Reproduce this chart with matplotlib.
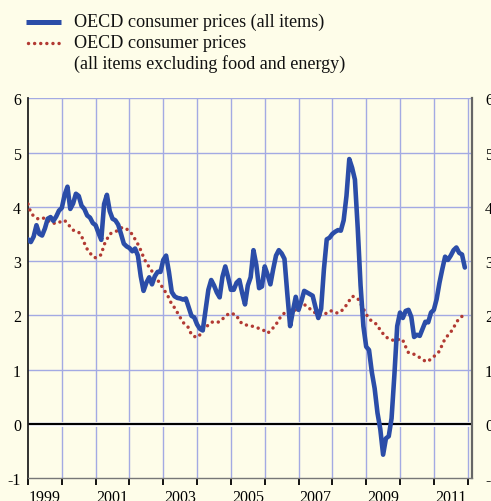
import matplotlib
matplotlib.use("Agg")
import matplotlib.pyplot as plt
import numpy as np
from matplotlib.lines import Line2D
import matplotlib.transforms as mtransforms

# ---------------- data (monthly, Jan 1999 - Dec 2011) ----------------
start_year = 1999
all_items = [
    3.40, 3.35, 3.45, 3.66, 3.50, 3.47, 3.60, 3.78, 3.81, 3.74, 3.82, 3.93,   # 1999
    3.98, 4.22, 4.37, 3.96, 4.06, 4.24, 4.20, 4.02, 3.96, 3.84, 3.80, 3.70,   # 2000
    3.66, 3.52, 3.39, 4.05, 4.22, 3.92, 3.78, 3.75, 3.67, 3.50, 3.32, 3.27,   # 2001
    3.24, 3.18, 3.23, 3.10, 2.72, 2.45, 2.60, 2.70, 2.57, 2.72, 2.80, 2.80,   # 2002
    3.02, 3.10, 2.80, 2.43, 2.35, 2.32, 2.31, 2.29, 2.31, 2.15, 1.99, 1.96,   # 2003
    1.83, 1.75, 1.72, 2.10, 2.47, 2.65, 2.55, 2.42, 2.33, 2.71, 2.90, 2.70,   # 2004
    2.47, 2.47, 2.60, 2.65, 2.41, 2.20, 2.55, 2.70, 3.20, 2.93, 2.50, 2.53,   # 2005
    2.90, 2.75, 2.57, 2.85, 3.10, 3.20, 3.14, 3.04, 2.40, 1.80, 2.08, 2.34,   # 2006
    2.10, 2.26, 2.45, 2.42, 2.39, 2.36, 2.15, 1.95, 2.12, 2.85, 3.40, 3.43,   # 2007
    3.50, 3.54, 3.57, 3.56, 3.75, 4.20, 4.88, 4.72, 4.50, 3.60, 2.55, 1.80,   # 2008
    1.42, 1.36, 0.95, 0.65, 0.20, -0.10, -0.57, -0.27, -0.23, 0.10, 0.90, 1.80,  # 2009
    2.05, 1.95, 2.08, 2.10, 1.97, 1.60, 1.64, 1.62, 1.75, 1.88, 1.87, 2.05,   # 2010
    2.10, 2.30, 2.60, 2.85, 3.08, 3.02, 3.10, 3.20, 3.25, 3.15, 3.12, 2.88,   # 2011
]
core = [
    4.05, 3.89, 3.83, 3.79, 3.77, 3.79, 3.79, 3.75, 3.71, 3.70, 3.69, 3.71,   # 1999
    3.74, 3.75, 3.69, 3.63, 3.57, 3.55, 3.53, 3.46, 3.33, 3.22, 3.15, 3.08,   # 2000
    3.06, 3.08, 3.12, 3.30, 3.40, 3.50, 3.52, 3.54, 3.57, 3.61, 3.62, 3.59,   # 2001
    3.55, 3.49, 3.40, 3.31, 3.20, 3.07, 2.96, 2.89, 2.81, 2.74, 2.65, 2.57,   # 2002
    2.49, 2.41, 2.32, 2.20, 2.14, 2.05, 1.96, 1.87, 1.82, 1.77, 1.64, 1.61,   # 2003
    1.59, 1.64, 1.72, 1.78, 1.82, 1.87, 1.88, 1.87, 1.88, 1.93, 1.98, 2.02,   # 2004
    2.04, 2.02, 2.00, 1.89, 1.85, 1.82, 1.82, 1.81, 1.79, 1.77, 1.76, 1.74,   # 2005
    1.71, 1.67, 1.71, 1.77, 1.83, 1.92, 2.00, 2.04, 2.07, 2.07, 2.08, 2.10,   # 2006
    2.13, 2.20, 2.20, 2.16, 2.12, 2.08, 2.04, 2.01, 2.00, 2.02, 2.04, 2.08,   # 2007
    2.08, 2.05, 2.04, 2.07, 2.12, 2.19, 2.27, 2.35, 2.34, 2.31, 2.22, 2.12,   # 2008
    2.02, 1.94, 1.89, 1.86, 1.82, 1.72, 1.66, 1.60, 1.57, 1.55, 1.53, 1.54,   # 2009
    1.57, 1.54, 1.42, 1.31, 1.30, 1.28, 1.25, 1.22, 1.19, 1.15, 1.15, 1.20,   # 2010
    1.24, 1.28, 1.34, 1.46, 1.57, 1.63, 1.69, 1.77, 1.87, 1.94, 1.98, 2.02,   # 2011
]
label_all = "OECD consumer prices (all items)"
label_core_1 = "OECD consumer prices"
label_core_2 = "(all items excluding food and energy)"
year_labels = [1999, 2001, 2003, 2005, 2007, 2009, 2011]
y_ticks = [-1, 0, 1, 2, 3, 4, 5, 6]

# ---------------- style ----------------
BG = "#FEFDE9"
BLUE = "#2B4DA8"
RED = "#B23A33"
GRID = "#A3AAE3"
FONT = "Liberation Serif"
plt.rcParams["font.family"] = [FONT, "DejaVu Serif"]
DOTS = (0, (0.01, 1.75))

W, H = 491, 502
fig = plt.figure(figsize=(W / 100, H / 100), dpi=100, facecolor=BG)
left_px, right_px, top_px, bot_px = 28, 472, 99.3, 479
ax = fig.add_axes([left_px / W, 1 - bot_px / H, (right_px - left_px) / W, (bot_px - top_px) / H])
ax.set_facecolor(BG)

t_all = start_year + np.arange(len(all_items)) / 12.0
t_core = start_year + np.arange(len(core)) / 12.0

px_per_year = 33.82
x_max = start_year + (right_px - left_px) / px_per_year
ax.set_xlim(start_year, x_max)
ax.set_ylim(-1, 6)

# grid
for yr in range(2000, 2013):
    ax.axvline(yr, color=GRID, lw=1.0, zorder=1)
for yv in y_ticks:
    if yv not in (0, -1):
        ax.axhline(yv, color=GRID, lw=1.0, zorder=1)
# zero line
ax.axhline(0, color="white", lw=3.5, zorder=2)
ax.axhline(0, color="black", lw=1.6, zorder=2.1)

# series
ax.plot(t_core, core, color=RED, lw=2.5, linestyle=DOTS,
        dash_capstyle="round", zorder=3)
ax.plot(t_all, all_items, color=BLUE, lw=3.3, solid_joinstyle="round",
        solid_capstyle="round", zorder=4)

# spines
ax.spines["top"].set_visible(False)
ax.spines["left"].set_color("#222222")
ax.spines["left"].set_linewidth(1.3)
ax.spines["right"].set_color("#666666")
ax.spines["right"].set_linewidth(1.6)
ax.spines["bottom"].set_color("#777777")
ax.spines["bottom"].set_linewidth(1.0)

# y ticks both sides
ax.set_yticks(y_ticks)
ax.set_yticklabels([str(v) for v in y_ticks])
ax.tick_params(axis="y", which="both", length=0, labelsize=11.5, pad=5,
               left=True, right=True, labelleft=True, labelright=True)
offset = mtransforms.ScaledTranslation(6 / 100, 0, fig.dpi_scale_trans)
for tick in ax.yaxis.get_major_ticks():
    tick.label2.set_transform(tick.label2.get_transform() + offset)

# x ticks at year boundaries, labels at mid-year for odd years
ax.set_xticks(list(range(1999, 2013)))
ax.set_xticklabels([])
ax.tick_params(axis="x", which="major", direction="out", length=5, width=1.3, color="black")
ax.set_xticks([y + 0.5 for y in year_labels], minor=True)
ax.set_xticklabels([str(y) for y in year_labels], minor=True)
ax.tick_params(axis="x", which="minor", length=0, labelsize=11.5, pad=8)

# legend (manual)
fs_leg = 13.1
lx0, lx1 = 26 / W, 61 / W
tx = 74 / W
y1 = 1 - 22.5 / H
y2 = 1 - 43.5 / H
y3 = 1 - 64.5 / H
fig.add_artist(Line2D([lx0, lx1], [y1, y1], transform=fig.transFigure, color=BLUE, lw=3.6,
                      solid_capstyle="butt"))
fig.add_artist(Line2D([lx0 + 1.5 / W, lx1], [y2, y2], transform=fig.transFigure, color=RED, lw=2.5,
                      linestyle=DOTS, dash_capstyle="round"))
fig.text(tx, y1, label_all, fontsize=fs_leg, va="center", ha="left", color="#111111")
fig.text(tx, y2, label_core_1, fontsize=fs_leg, va="center", ha="left", color="#111111")
fig.text(tx, y3, label_core_2, fontsize=fs_leg, va="center", ha="left", color="#111111")

fig.savefig("out.png", dpi=100, facecolor=BG)
